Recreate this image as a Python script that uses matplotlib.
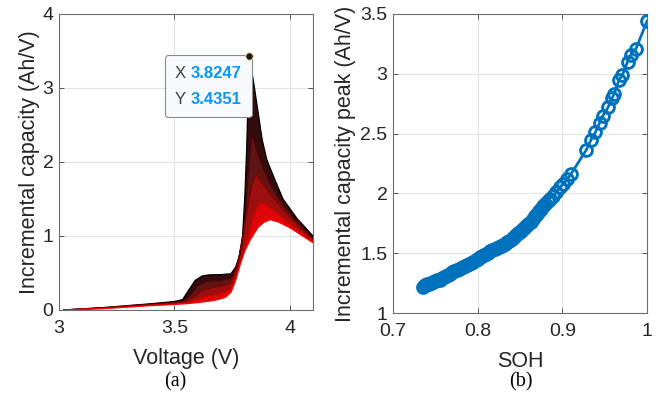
import numpy as np
import matplotlib
matplotlib.use("Agg")
import matplotlib.pyplot as plt
from matplotlib.offsetbox import TextArea, HPacker, VPacker, AnnotationBbox

# ---------------- data: panel (a) keyframe IC curves ----------------
soh_keys = [1.000, 0.930, 0.870, 0.800, 0.735]

v1 = [3.02, 3.2, 3.4, 3.5, 3.535, 3.56, 3.59, 3.62, 3.65, 3.70, 3.745, 3.765, 3.78,
      3.795, 3.805, 3.813, 3.819, 3.8247, 3.848, 3.88, 3.90, 3.935, 3.97, 4.03, 4.1]
ic1 = [0.0, 0.035, 0.085, 0.115, 0.14, 0.26, 0.40, 0.46, 0.475, 0.478, 0.49, 0.58, 0.72,
       1.0, 1.55, 2.2, 2.9, 3.4351, 2.97, 2.30, 2.03, 1.76, 1.50, 1.24, 1.0]

v2 = [3.02, 3.2, 3.4, 3.5, 3.54, 3.57, 3.60, 3.64, 3.70, 3.745, 3.77, 3.79, 3.805,
      3.818, 3.828, 3.836, 3.86, 3.89, 3.93, 3.97, 4.03, 4.1]
ic2 = [0.0, 0.032, 0.08, 0.105, 0.125, 0.21, 0.33, 0.39, 0.40, 0.43, 0.58, 0.85, 1.25,
       1.80, 2.20, 2.40, 2.12, 1.88, 1.62, 1.43, 1.20, 0.97]

v3 = [3.02, 3.2, 3.4, 3.5, 3.545, 3.58, 3.62, 3.66, 3.70, 3.74, 3.76, 3.78, 3.80,
      3.82, 3.838, 3.855, 3.88, 3.92, 3.97, 4.03, 4.1]
ic3 = [0.0, 0.028, 0.072, 0.095, 0.11, 0.17, 0.26, 0.30, 0.32, 0.36, 0.48, 0.72, 1.05,
       1.45, 1.72, 1.83, 1.72, 1.55, 1.36, 1.16, 0.95]

v4 = [3.02, 3.2, 3.4, 3.5, 3.55, 3.60, 3.65, 3.70, 3.74, 3.765, 3.79, 3.815, 3.84,
      3.86, 3.88, 3.91, 3.96, 4.02, 4.1]
ic4 = [0.0, 0.024, 0.066, 0.085, 0.095, 0.14, 0.19, 0.22, 0.28, 0.43, 0.68, 0.98, 1.25,
       1.40, 1.45, 1.40, 1.27, 1.12, 0.93]

v5 = [3.02, 3.2, 3.4, 3.5, 3.55, 3.6, 3.65, 3.68, 3.72, 3.745, 3.765, 3.785, 3.805,
      3.83, 3.863, 3.89, 3.915, 3.95, 4.007, 4.05, 4.1]
ic5 = [0.0, 0.02, 0.06, 0.075, 0.085, 0.10, 0.12, 0.135, 0.17, 0.24, 0.40, 0.62, 0.80,
       0.96, 1.12, 1.19, 1.22, 1.19, 1.10, 1.01, 0.91]

# ---------------- data: panel (b) IC peak vs SOH ----------------
soh = [1.000, 0.987, 0.981, 0.977, 0.971, 0.967, 0.961, 0.959, 0.954, 0.948, 0.944,
       0.939, 0.934, 0.928, 0.910, 0.906, 0.901, 0.897, 0.893, 0.889,
       0.885, 0.8825, 0.880, 0.8775, 0.875, 0.8725, 0.870, 0.8675, 0.865, 0.8625,
       0.860, 0.8575, 0.855, 0.8525, 0.850, 0.8475, 0.845, 0.8425, 0.840, 0.8375,
       0.835, 0.8325, 0.830, 0.8275, 0.825, 0.8225, 0.820, 0.8175, 0.815, 0.8125,
       0.810, 0.8075, 0.805, 0.8025, 0.800, 0.7975, 0.795, 0.7925, 0.790, 0.7875,
       0.785, 0.7825, 0.780, 0.7775, 0.775, 0.7725, 0.770, 0.7675, 0.765, 0.7625,
       0.760, 0.7575, 0.755, 0.7525, 0.750, 0.7475, 0.745, 0.7425, 0.740, 0.7375,
       0.735]
ic_peak = [3.44, 3.21, 3.16, 3.10, 2.99, 2.95, 2.83, 2.80, 2.72, 2.65, 2.59,
           2.51, 2.45, 2.36, 2.16, 2.12, 2.08, 2.05, 2.01, 1.98,
           1.955, 1.935, 1.915, 1.895, 1.87, 1.85, 1.83, 1.81, 1.79, 1.765,
           1.745, 1.725, 1.71, 1.695, 1.68, 1.665, 1.65, 1.635, 1.62, 1.605,
           1.595, 1.58, 1.57, 1.56, 1.55, 1.54, 1.535, 1.525, 1.515, 1.505,
           1.495, 1.485, 1.475, 1.465, 1.455, 1.44, 1.43, 1.42, 1.41, 1.40,
           1.395, 1.385, 1.375, 1.37, 1.36, 1.35, 1.34, 1.33, 1.32, 1.31,
           1.30, 1.29, 1.28, 1.275, 1.27, 1.26, 1.255, 1.245, 1.24, 1.23,
           1.22]

xticks_a = [3, 3.5, 4]
yticks_a = [0, 1, 2, 3, 4]
xticks_b = [0.7, 0.8, 0.9, 1.0]
yticks_b = [1, 1.5, 2, 2.5, 3, 3.5]

# ---------------- figure ----------------
plt.rcParams['font.family'] = ['Liberation Sans', 'DejaVu Sans']
fig = plt.figure(figsize=(6.63, 4.01), dpi=100)
axA = fig.add_axes([59/663, 1-310/401, 254/663, 296/401])
axB = fig.add_axes([393/663, 1-313/401, 254/663, 299/401])

def style(ax):
    ax.grid(True, color='#e3e3e3', lw=0.8)
    ax.set_axisbelow(True)
    for s in ax.spines.values():
        s.set_color('#6e6e6e')
        s.set_linewidth(0.8)
    ax.tick_params(direction='in', length=3.5, width=0.7, color='#555555',
                   top=True, right=True, labelsize=14, labelcolor='#262626')
    ax.tick_params(axis='x', pad=7)
    ax.tick_params(axis='y', pad=4)

curves = [(v1, ic1), (v2, ic2), (v3, ic3), (v4, ic4), (v5, ic5)]
smin = min(soh_keys)
def kcol(s):
    r = (1 - s) / (1 - smin)
    return (r, 0, 0)

# bands between neighbouring keyframe curves
band_cols = [(0.20, 0.05, 0.05), (0.38, 0.08, 0.08), (0.62, 0.06, 0.06), (0.88, 0.02, 0.02)]
for i in range(len(curves) - 1):
    va, ia = curves[i]
    vb, ib = curves[i + 1]
    px = list(va) + list(vb)[::-1]
    py = list(ia) + list(ib)[::-1]
    axA.fill(px, py, color=band_cols[i], lw=0, zorder=2)
for (v, ic), s in zip(curves, soh_keys):
    axA.plot(v, ic, color=kcol(s), lw=0.9, zorder=3)

pk = int(np.argmax(ic1))
axA.plot([v1[pk]], [ic1[pk]], 'o', ms=5.5, mfc='#1a1a1a', mec='#efe7a0', mew=0.8, zorder=7)

axA.set_xlim(3, 4.1)
axA.set_ylim(0, 4)
axA.set_xticks(xticks_a)
axA.set_xticklabels(['3', '3.5', '4'])
axA.set_yticks(yticks_a)
style(axA)
axA.set_xlabel('Voltage (V)', fontsize=15.5, color='#262626', labelpad=8)
axA.set_ylabel('Incremental capacity (Ah/V)', fontsize=15.5, color='#262626', labelpad=2)

# data tip
blue = '#0a96f5'
fs_tip = 12
row1 = HPacker(children=[TextArea('X', textprops=dict(fontsize=fs_tip, color='#404040')),
                         TextArea(f'{v1[pk]:.4f}', textprops=dict(fontsize=fs_tip, color=blue, weight='bold'))],
               sep=3, align='baseline')
row2 = HPacker(children=[TextArea('Y', textprops=dict(fontsize=fs_tip, color='#404040')),
                         TextArea(f'{ic1[pk]:.4f}', textprops=dict(fontsize=fs_tip, color=blue, weight='bold'))],
               sep=3, align='baseline')
box = VPacker(children=[row1, row2], sep=8, align='left')
ab = AnnotationBbox(box, (v1[pk], ic1[pk]), xybox=(-6, -7), xycoords='data',
                    boxcoords='offset points', box_alignment=(1, 1), pad=0.5,
                    bboxprops=dict(boxstyle='round,pad=0.75,rounding_size=0.25',
                                   fc='#f8f9fd', ec='#8a8a8a', lw=0.8), zorder=6)
axA.add_artist(ab)

# panel b
axB.plot(soh, ic_peak, '-o', color='#0072BD', lw=2, ms=8.5, mfc='none', mew=2.1, zorder=3)
axB.set_xlim(0.7, 1.0)
axB.set_ylim(1, 3.5)
axB.set_xticks(xticks_b)
axB.set_xticklabels(['0.7', '0.8', '0.9', '1'])
axB.set_yticks(yticks_b)
axB.set_yticklabels(['1', '1.5', '2', '2.5', '3', '3.5'])
style(axB)
axB.set_xlabel('SOH', fontsize=15.5, color='#262626', labelpad=8)
axB.set_ylabel('Incremental capacity peak (Ah/V)', fontsize=15.5, color='#262626', labelpad=3)

fig.text(175/663, 1-382/401, '(a)', ha='center', va='center', fontsize=14.5,
         family=['Liberation Serif'])
fig.text(521/663, 1-382/401, '(b)', ha='center', va='center', fontsize=14.5,
         family=['Liberation Serif'])

fig.savefig('out.png', dpi=100)
